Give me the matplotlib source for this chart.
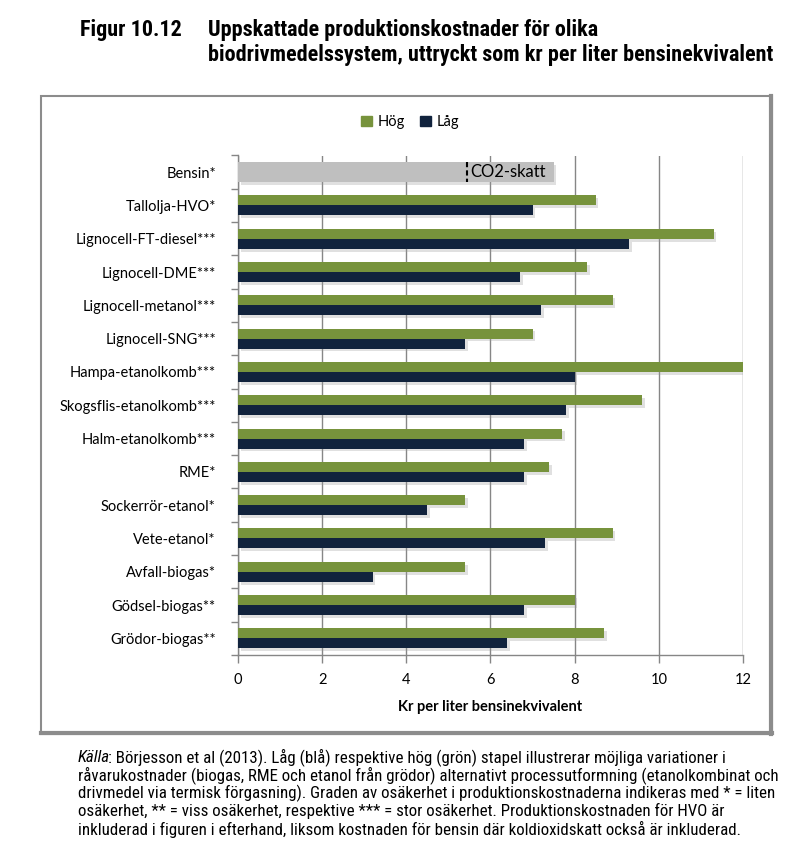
import matplotlib
matplotlib.use("Agg")
import matplotlib.pyplot as plt
import matplotlib.patheffects as pe
from matplotlib import font_manager
from matplotlib.patches import Rectangle, Patch
from matplotlib.lines import Line2D
import numpy as np

# data (kr per liter bensinekvivalent)
categories = ["Bensin*", "Tallolja-HVO*", "Lignocell-FT-diesel***", "Lignocell-DME***",
              "Lignocell-metanol***", "Lignocell-SNG***", "Hampa-etanolkomb***",
              "Skogsflis-etanolkomb***", "Halm-etanolkomb***", "RME*", "Sockerrör-etanol*",
              "Vete-etanol*", "Avfall-biogas*", "Gödsel-biogas**", "Grödor-biogas**"]
hog = [None, 8.5, 11.3, 8.3, 8.9, 7.0, 12.0, 9.6, 7.7, 7.4, 5.4, 8.9, 5.4, 8.0, 8.7]
lag = [None, 7.0, 9.3, 6.7, 7.2, 5.4, 8.0, 7.8, 6.8, 6.8, 4.5, 7.3, 3.2, 6.8, 6.4]
bensin_total = 7.5
bensin_utan_skatt = 5.45
xticks = [0, 2, 4, 6, 8, 10, 12]

GREEN = "#77933c"
NAVY = "#11233d"
GREY = "#bfbfbf"
AXGREY = "#868686"

chart_font = ["Lato", "DejaVu Sans"]


def pick_narrow():
    # look for any installed narrow/condensed face for the title and caption
    names = {f.name for f in font_manager.fontManager.ttflist}
    for n in ["Liberation Sans Narrow", "Roboto Condensed", "Noto Sans Condensed",
              "Open Sans Condensed", "DejaVu Sans Condensed", "Arial Narrow"]:
        if n in names:
            return {"family": [n, "DejaVu Sans"]}, True
    for f in font_manager.fontManager.ttflist:
        if f.stretch in ("condensed", "semi-condensed", "extra-condensed") and \
                f.name in ("Noto Sans", "DejaVu Sans", "Roboto", "Open Sans"):
            return {"family": [f.name, "DejaVu Sans"], "stretch": f.stretch}, True
    for f in font_manager.fontManager.ttflist:
        if "Condensed" in f.name or "Narrow" in f.name:
            return {"family": [f.name, "DejaVu Sans"]}, True
    return {"family": ["Roboto", "DejaVu Sans"]}, False


narrow, is_narrow = pick_narrow()
title_size = 15.9 if is_narrow else 12.5
cap_size = 12.2 if is_narrow else 9.3

W, H = 803, 852
fig = plt.figure(figsize=(W / 100, H / 100), dpi=100)


def fx(px):
    return px / W


def fy(py):
    return 1 - py / H


ax = fig.add_axes([fx(238), fy(655), fx(743) - fx(238), fy(155.5) - fy(655)])

shadow = [pe.SimplePatchShadow(offset=(2, -2), shadow_rgbFace="#999999", alpha=0.3), pe.Normal()]

y = np.arange(len(categories))
bh = 0.3
for i, (h, l) in enumerate(zip(hog, lag)):
    if h is None:
        continue
    b1 = ax.barh(i - bh / 2, h, height=bh, color=GREEN, zorder=3)
    b2 = ax.barh(i + bh / 2, l, height=bh, color=NAVY, zorder=3)
    for b in list(b1) + list(b2):
        b.set_path_effects(shadow)

gb = ax.barh(0, bensin_total, height=0.58, color=GREY, zorder=3)
for b in gb:
    b.set_path_effects(shadow)
ax.plot([bensin_utan_skatt, bensin_utan_skatt], [-0.29, 0.29], color="black",
        linestyle=(0, (2.5, 1.5)), lw=1.5, zorder=4)
ax.text(bensin_utan_skatt + 0.08, 0, "CO2-skatt", va="center", ha="left",
        fontsize=12, family=chart_font, color="black", zorder=5)

ax.set_xlim(0, 12)
ax.set_ylim(len(categories) - 0.5, -0.5)
ax.set_xticks(xticks)
ax.set_xticklabels([str(t) for t in xticks], family=chart_font, fontsize=10.5)
ax.set_yticks(y)
ax.set_yticklabels(categories, family=chart_font, fontsize=10.5)
ax.set_yticks(np.arange(-0.5, len(categories)), minor=True)
ax.tick_params(axis="y", which="major", length=0, pad=16)
ax.tick_params(axis="y", which="minor", length=5, color=AXGREY, width=1)
ax.tick_params(axis="x", length=6, color=AXGREY, width=1, pad=7)
ax.xaxis.grid(True, color=AXGREY, lw=1, zorder=0)
ax.set_axisbelow(True)
for s in ["top", "right"]:
    ax.spines[s].set_visible(False)
for s in ["left", "bottom"]:
    ax.spines[s].set_color(AXGREY)
    ax.spines[s].set_linewidth(1)
ax.set_xlabel("Kr per liter bensinekvivalent", family=chart_font, fontsize=10.5,
              fontweight="bold", labelpad=9)

handles = [Patch(color=GREEN, label="Hög"), Patch(color=NAVY, label="Låg")]
fig.legend(handles=handles, loc="center", bbox_to_anchor=(fx(410), fy(122)), ncol=2,
           frameon=False, handlelength=0.75, handleheight=0.75, handletextpad=0.4,
           columnspacing=1.0, prop={"family": chart_font, "size": 10.5})

# frame around the chart
fig.patches.append(Rectangle((fx(41), fy(734)), fx(772) - fx(41), fy(96) - fy(734),
                             transform=fig.transFigure, fill=False, edgecolor="#8c8c8c",
                             lw=1.5, zorder=0))
fig.lines.append(Line2D([fx(771), fx(771)], [fy(734), fy(96)], transform=fig.transFigure,
                        color="#8c8c8c", lw=3))
fig.lines.append(Line2D([fx(41), fx(772)], [fy(733), fy(733)], transform=fig.transFigure,
                        color="#8c8c8c", lw=3))

# title
title_lines = ["Uppskattade produktionskostnader för olika",
               "biodrivmedelssystem, uttryckt som kr per liter bensinekvivalent"]
fig.text(fx(80), fy(30), "Figur 10.12", fontsize=title_size, fontweight="bold",
         va="center", ha="left", **narrow)
for k, line in enumerate(title_lines):
    fig.text(fx(208), fy(30 + 25 * k), line, fontsize=title_size, fontweight="bold",
             va="center", ha="left", **narrow)

# caption, first word in italics
caption_lines = [
    ": Börjesson et al (2013). Låg (blå) respektive hög (grön) stapel illustrerar möjliga variationer i",
    "råvarukostnader (biogas, RME och etanol från grödor) alternativt processutformning (etanolkombinat och",
    "drivmedel via termisk förgasning). Graden av osäkerhet i produktionskostnaderna indikeras med * = liten",
    "osäkerhet, ** = viss osäkerhet, respektive *** = stor osäkerhet. Produktionskostnaden för HVO är",
    "inkluderad i figuren i efterhand, liksom kostnaden för bensin där koldioxidskatt också är inkluderad.",
]
t1 = fig.text(fx(78), fy(757), "Källa", fontsize=cap_size, style="italic",
              va="center", ha="left", **narrow)
ax.annotate(caption_lines[0], xy=(1, 0.5), xycoords=t1, xytext=(-1.5, 0),
            textcoords="offset points", va="center", ha="left", fontsize=cap_size,
            annotation_clip=False, **narrow)
for k, line in enumerate(caption_lines[1:], start=1):
    fig.text(fx(78), fy(757 + 18 * k), line, fontsize=cap_size, va="center", ha="left",
             **narrow)

fig.savefig("out.png", dpi=100)
